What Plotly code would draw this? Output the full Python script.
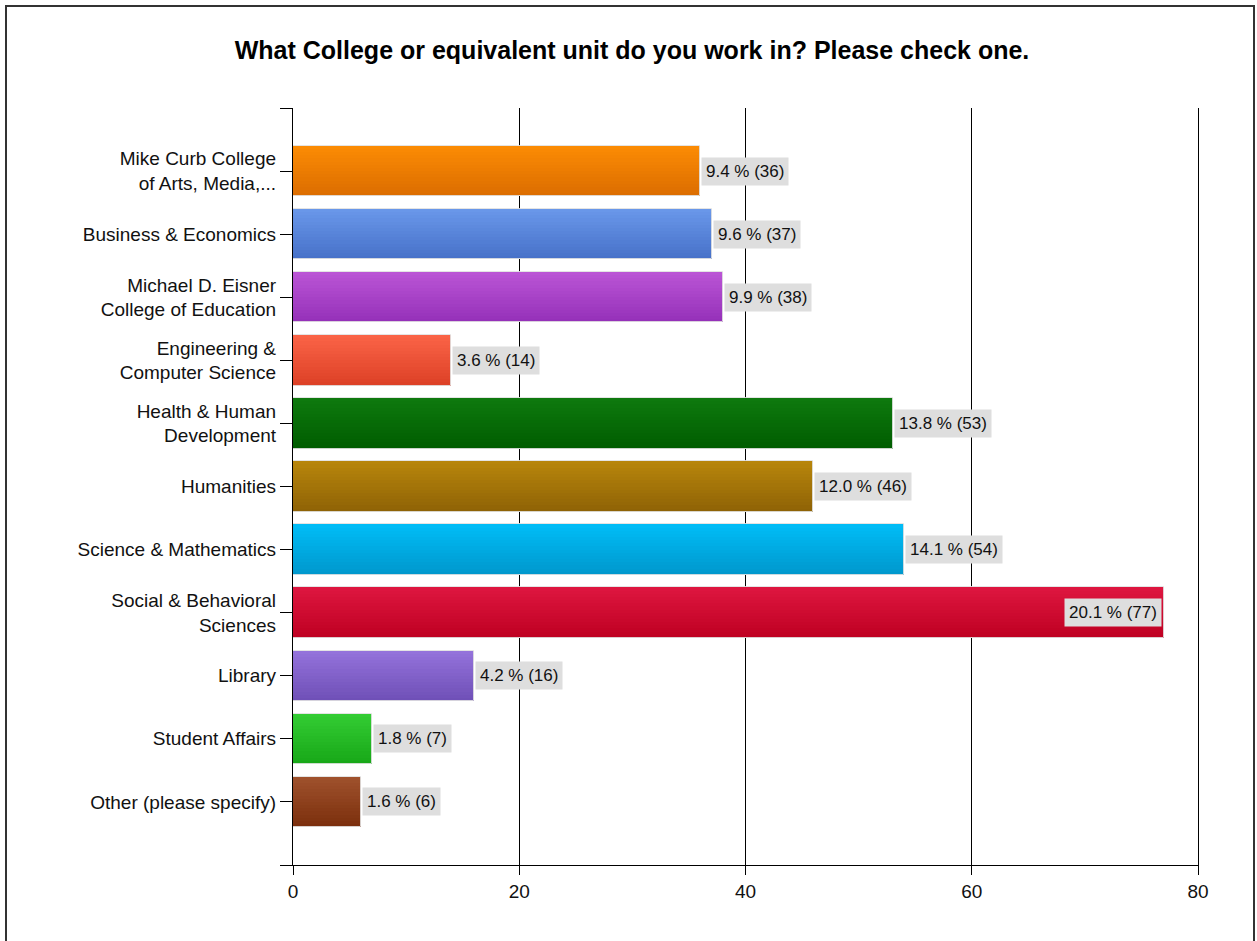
import plotly.graph_objects as go

categories = [
    "Mike Curb College<br>of Arts, Media,...",
    "Business & Economics",
    "Michael D. Eisner<br>College of Education",
    "Engineering &<br>Computer Science",
    "Health & Human<br>Development",
    "Humanities",
    "Science & Mathematics",
    "Social & Behavioral<br>Sciences",
    "Library",
    "Student Affairs",
    "Other (please specify)",
]
counts = [36, 37, 38, 14, 53, 46, 54, 77, 16, 7, 6]
percents = [9.4, 9.6, 9.9, 3.6, 13.8, 12.0, 14.1, 20.1, 4.2, 1.8, 1.6]

top_colors = ["#FC8C04", "#6A98EA", "#BB55D6", "#FB6447", "#0E7A0E", "#B8860B",
              "#00BDF7", "#DE1640", "#9573DC", "#34CD34", "#A0522D"]
bot_colors = ["#DB6C00", "#4670C8", "#9430B8", "#DC4026", "#005C00", "#8E6206",
              "#0097CC", "#BE0021", "#6E4FB6", "#17A717", "#7A2E0C"]

title_text = "What College or equivalent unit do you work in? Please check one."

positions = list(range(len(categories)))
FONT = "Liberation Sans, Arial, sans-serif"


def hex2rgb(h):
    h = h.lstrip("#")
    return tuple(int(h[i:i + 2], 16) for i in (0, 2, 4))


def mix(a, b, t):
    ra, rb = hex2rgb(a), hex2rgb(b)
    return "rgb(%d,%d,%d)" % tuple(round(ra[k] + (rb[k] - ra[k]) * t) for k in range(3))


fig = go.Figure()

BAR_W = 0.8
N = 16
strip = BAR_W / N
for i in range(N):
    t = (i + 0.5) / N
    w = strip * 1.04 if i < N - 1 else strip
    fig.add_trace(go.Bar(
        x=counts, y=positions, orientation="h",
        width=w, offset=-BAR_W / 2 + i * strip,
        marker=dict(color=[mix(a, b, t) for a, b in zip(top_colors, bot_colors)],
                    line=dict(width=0)),
        hoverinfo="skip", showlegend=False,
    ))

# light outline
fig.add_trace(go.Bar(
    x=counts, y=positions, orientation="h", width=BAR_W, offset=-BAR_W / 2,
    marker=dict(color="rgba(0,0,0,0)", line=dict(color="rgba(225,225,225,0.9)", width=1)),
    hoverinfo="skip", showlegend=False,
))

max_c = max(counts)
for c, p, pos in zip(counts, percents, positions):
    inside = c == max_c
    fig.add_annotation(
        x=c, y=pos, xref="x", yref="y",
        text=f"{p:.1f} % ({c})",
        showarrow=False,
        xanchor="right" if inside else "left",
        xshift=-2 if inside else 1,
        yanchor="middle",
        bgcolor="#DEDEDE",
        borderpad=4,
        font=dict(family=FONT, size=17, color="#111111"),
    )

W, H = 1257, 941
L, R, T, B = 293, 1198, 108, 865

# outer frame
fig.add_shape(type="rect", xref="paper", yref="paper",
              x0=(6 - L) / (R - L), x1=(1254 - L) / (R - L),
              y0=(B - 960) / (B - T), y1=(B - 6) / (B - T),
              line=dict(color="#333333", width=2), fillcolor="rgba(0,0,0,0)", layer="below")

fig.update_layout(
    width=W, height=H,
    margin=dict(l=L, r=W - R, t=T, b=H - B),
    paper_bgcolor="white", plot_bgcolor="white",
    barmode="overlay", bargap=0,
    title=dict(text=f"<b>{title_text}</b>", x=632 / W, xref="container", xanchor="center",
               y=1 - 50 / H, yref="container", yanchor="middle",
               font=dict(family=FONT, size=25, color="#000000")),
    font=dict(family=FONT, size=19, color="#111111"),
    xaxis=dict(range=[0, 80], dtick=20, tick0=0, showgrid=True, gridcolor="#000000",
               gridwidth=1.3, zeroline=False, showline=True, linecolor="#000000",
               linewidth=1.3, ticks="outside", ticklen=9, tickcolor="#000000",
               tickwidth=1.3, tickfont=dict(size=19, family=FONT, color="#111111")),
    yaxis=dict(range=[11, -1], tickmode="array",
               tickvals=[-1] + positions + [11],
               ticktext=[""] + categories + [""],
               showgrid=False, zeroline=False, showline=True, mirror=True,
               linecolor="#000000",
               linewidth=1.3, ticks="outside", ticklen=12, tickcolor="#000000",
               tickwidth=1.3, tickfont=dict(size=19, family=FONT, color="#111111")),
)

fig.write_html("out.html", config={"displayModeBar": False},
               post_script="document.body.style.margin='0px';")
